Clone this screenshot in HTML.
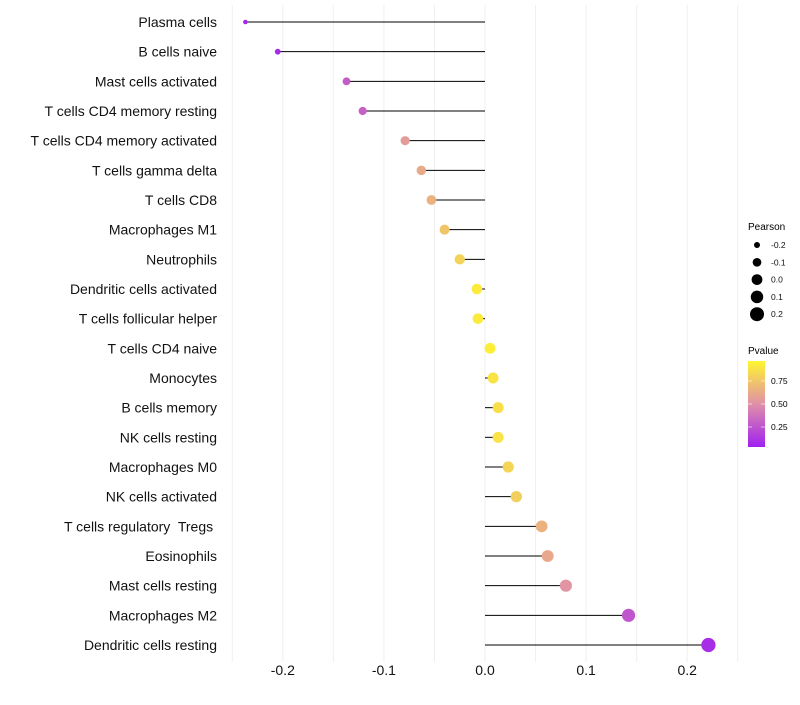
<!DOCTYPE html>
<html><head><meta charset="utf-8"><style>
html,body{margin:0;padding:0;background:#fff;}
svg text{font-family:"Liberation Sans",Arial,sans-serif;}
</style></head><body>
<svg id="chart" width="800" height="700" xmlns="http://www.w3.org/2000/svg">
<defs><linearGradient id="pg" x1="0" y1="1" x2="0" y2="0">
<stop offset="0" stop-color="#A020F0"/><stop offset="0.5" stop-color="#E090A8"/><stop offset="1" stop-color="#FFF530"/></linearGradient></defs>
<g id="grid"></g>
<g id="marks"></g>
<g id="ylab"></g>
<g id="xlab"></g>
<g>
<text x="748" y="230" font-size="10">Pearson</text>
<g id="sizeLegend"></g>
</g>
<g>
<text x="748" y="354" font-size="10">Pvalue</text>
<rect x="748" y="361" width="17" height="86" fill="url(#pg)"/>
<line x1="748" y1="381" x2="752" y2="381" stroke="#fff" stroke-opacity="0.6"/><line x1="761" y1="381" x2="765" y2="381" stroke="#fff" stroke-opacity="0.6"/>
<line x1="748" y1="404" x2="752" y2="404" stroke="#fff" stroke-opacity="0.6"/><line x1="761" y1="404" x2="765" y2="404" stroke="#fff" stroke-opacity="0.6"/>
<line x1="748" y1="427" x2="752" y2="427" stroke="#fff" stroke-opacity="0.6"/><line x1="761" y1="427" x2="765" y2="427" stroke="#fff" stroke-opacity="0.6"/>
<text x="771" y="384" font-size="8.5">0.75</text>
<text x="771" y="407" font-size="8.5">0.50</text>
<text x="771" y="430" font-size="8.5">0.25</text>
</g>
</svg>
<script>
const categories=["Plasma cells","B cells naive","Mast cells activated","T cells CD4 memory resting","T cells CD4 memory activated","T cells gamma delta","T cells CD8","Macrophages M1","Neutrophils","Dendritic cells activated","T cells follicular helper","T cells CD4 naive","Monocytes","B cells memory","NK cells resting","Macrophages M0","NK cells activated","T cells regulatory  Tregs ","Eosinophils","Mast cells resting","Macrophages M2","Dendritic cells resting"];
const pearson=[-0.237,-0.205,-0.137,-0.121,-0.079,-0.063,-0.053,-0.040,-0.025,-0.008,-0.007,0.005,0.008,0.013,0.013,0.023,0.031,0.056,0.062,0.080,0.142,0.221];
const pvalue=[0.03,0.05,0.27,0.29,0.56,0.63,0.67,0.76,0.83,0.95,0.95,0.97,0.91,0.89,0.91,0.84,0.81,0.67,0.62,0.52,0.24,0.06];
const xTicks=[-0.2,-0.1,0.0,0.1,0.2];
const xTickLabels=["-0.2","-0.1","0.0","0.1","0.2"];
const sizeBreaks=[-0.2,-0.1,0.0,0.1,0.2];
const sizeLabels=["-0.2","-0.1","0.0","0.1","0.2"];

const NS="http://www.w3.org/2000/svg";
const X=v=>485+v*1011;
const Y=i=>22+i*(623/21);
const R=v=>Math.sqrt(Math.max(2.2,29+100*v));
function lerp(a,b,t){return a.map((c,k)=>Math.round(c+(b[k]-c)*t));}
function col(p){const lo=[160,32,240],mid=[224,144,168],hi=[255,245,48];
 const c=p<0.5?lerp(lo,mid,p/0.5):lerp(mid,hi,(p-0.5)/0.5);return `rgb(${c.join(',')})`;}
function mk(tag,attrs,parent){const e=document.createElementNS(NS,tag);for(const k in attrs)e.setAttribute(k,attrs[k]);parent.appendChild(e);return e;}
const grid=document.getElementById('grid'),marks=document.getElementById('marks'),ylab=document.getElementById('ylab'),xlab=document.getElementById('xlab');
for(let v=-0.25;v<=0.251;v+=0.05){
 const l=mk('line',{x1:X(v),x2:X(v),y1:5,y2:662,stroke:'#efefef','stroke-width':1},grid);
 
 
}
xTicks.forEach((v,i)=>{
 const t=mk('text',{x:X(v),y:675,'font-size':14,'text-anchor':'middle',fill:'#111'},xlab);
 t.textContent=xTickLabels[i];
 
 
});
categories.forEach((c,i)=>{
 const y=Y(i);
 const t=mk('text',{x:217,y:y+5,'font-size':14,'text-anchor':'end',fill:'#111'},ylab);
 t.setAttribute('style','white-space:pre');
 t.textContent=c;
 
 
 const s=mk('line',{x1:X(0),x2:X(pearson[i]),y1:y,y2:y,stroke:'#000','stroke-width':1},marks);
 
 
 const p=mk('circle',{cx:X(pearson[i]),cy:y,r:R(pearson[i]),fill:col(pvalue[i])},marks);
 
 
});
const sl=document.getElementById('sizeLegend');
sizeBreaks.forEach((v,i)=>{
 const y=245+i*17.3;
 const c=mk('circle',{cx:757,cy:y,r:R(v),fill:'#000'},sl);
 
 
 const t=mk('text',{x:771,y:y+3,'font-size':8.5,fill:'#111'},sl);
 t.textContent=sizeLabels[i];
 
 
});
</script>
</body></html>
